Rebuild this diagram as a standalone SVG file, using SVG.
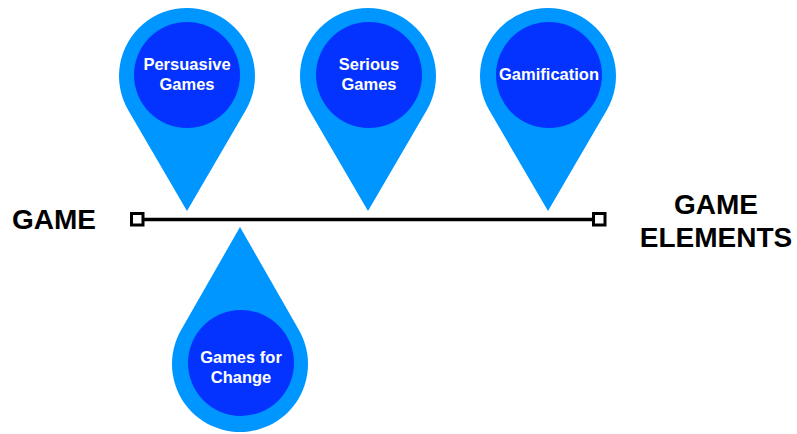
<svg xmlns="http://www.w3.org/2000/svg" width="797" height="434" viewBox="0 0 797 434">
<style>
.pin{fill:#0096FF}
.core{fill:#0433FF}
.lbl{font-family:"Liberation Sans",Arial,sans-serif;font-weight:bold;font-size:16.5px;fill:#FFFFFF;text-anchor:middle}
.big{font-family:"Liberation Sans",Arial,sans-serif;font-weight:bold;font-size:28px;fill:#000000}
.line{stroke:#000;stroke-width:3.5;fill:none}
.end{stroke:#000;stroke-width:3;fill:#fff}
</style>
<rect width="797" height="434" fill="#fff"/>
<g id="connectors">
<line class="line" x1="143" y1="219.5" x2="594" y2="219.5"/>
<rect class="end" x="131.5" y="213.5" width="11.5" height="11.5"/>
<rect class="end" x="593.5" y="213.5" width="11.5" height="11.5"/>
</g>
<g id="game">
<text class="big" x="12" y="229">GAME</text>
</g>
<g id="game-elements">
<text class="big" x="716" y="214" text-anchor="middle">GAME</text>
<text class="big" x="716" y="247" text-anchor="middle">ELEMENTS</text>
</g>
<g id="persuasive-games">
<path class="pin" d="M187,211 L128.27,110.27 A68,68 0 1 1 245.73,110.27 Z"/>
<circle class="core" cx="187" cy="75" r="53"/>
<text class="lbl" x="187" y="70">Persuasive</text>
<text class="lbl" x="187" y="90">Games</text>
</g>
<g id="serious-games">
<path class="pin" d="M368,211 L309.27,110.27 A68,68 0 1 1 426.73,110.27 Z"/>
<circle class="core" cx="369" cy="75" r="53"/>
<text class="lbl" x="369" y="70">Serious</text>
<text class="lbl" x="369" y="90">Games</text>
</g>
<g id="gamification">
<path class="pin" d="M548,211 L489.27,110.27 A68,68 0 1 1 606.73,110.27 Z"/>
<circle class="core" cx="549" cy="75" r="53"/>
<text class="lbl" x="549" y="80">Gamification</text>
</g>
<g id="games-for-change">
<path class="pin" d="M240,227 L180.97,330.25 A68,68 0 1 0 299.03,330.25 Z"/>
<circle class="core" cx="241" cy="363" r="53"/>
<text class="lbl" x="241" y="363">Games for</text>
<text class="lbl" x="241" y="383">Change</text>
</g>
</svg>
